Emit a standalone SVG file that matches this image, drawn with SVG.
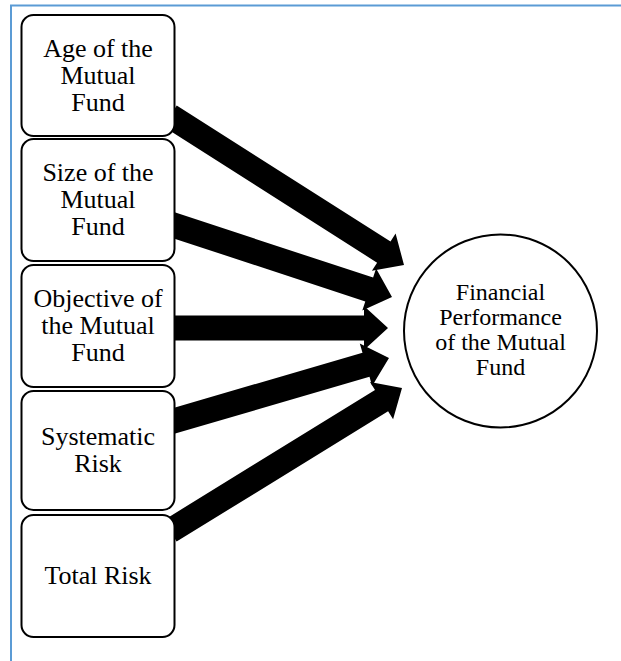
<svg xmlns="http://www.w3.org/2000/svg" width="621" height="661" viewBox="0 0 621 661">
<style>
.frame{stroke:#5b9bd5;stroke-width:2;fill:none}
.box{fill:#fff;stroke:#000;stroke-width:2}
.arrow{fill:#000;stroke:none}
.t{font-family:"Liberation Serif","Times New Roman",serif;font-size:26px;fill:#000;text-anchor:middle}
.tc{font-family:"Liberation Serif","Times New Roman",serif;font-size:24px;fill:#000;text-anchor:middle}
</style>
<rect width="621" height="661" fill="#fff"/>
<g id="frame">
<line class="frame" x1="10" y1="5.5" x2="621" y2="5.5"/>
<line class="frame" x1="11" y1="5" x2="11" y2="661"/>
</g>
<g id="connectors">
<polygon class="arrow" points="163.3,126.5 377.1,262.7 371.9,270.7 404,265 395.6,233.6 390.5,241.6 176.7,105.5"/>
<polygon class="arrow" points="166.1,235.9 365.3,301.4 362.3,310.4 392,297 376.1,268.6 373.1,277.6 173.9,212.1"/>
<polygon class="arrow" points="170,340.5 364,340.5 364,350 388,328 364,306 364,315.5 170,315.5"/>
<polygon class="arrow" points="173.5,434 369.5,376.7 372.1,385.9 389,358 359.8,343.6 362.5,352.7 166.5,410"/>
<polygon class="arrow" points="176.6,541.6 388.1,411.2 393.1,419.3 402,388 370,381.9 375,390 163.4,520.4"/>
</g>
<g id="age">
<rect class="box" x="21.5" y="15" width="153" height="121" rx="12"/>
<text class="t" x="98" y="56.5">Age of the</text>
<text class="t" x="98" y="83.5">Mutual</text>
<text class="t" x="98" y="110.5">Fund</text>
</g>
<g id="size">
<rect class="box" x="21.5" y="139" width="153" height="122" rx="12"/>
<text class="t" x="98" y="181">Size of the</text>
<text class="t" x="98" y="208">Mutual</text>
<text class="t" x="98" y="235">Fund</text>
</g>
<g id="objective">
<rect class="box" x="21.5" y="265" width="153" height="122" rx="12"/>
<text class="t" x="98" y="307">Objective of</text>
<text class="t" x="98" y="334">the Mutual</text>
<text class="t" x="98" y="361">Fund</text>
</g>
<g id="systematic">
<rect class="box" x="21.5" y="391" width="153" height="119" rx="12"/>
<text class="t" x="98" y="445">Systematic</text>
<text class="t" x="98" y="472">Risk</text>
</g>
<g id="total">
<rect class="box" x="21.5" y="515" width="153" height="122" rx="12"/>
<text class="t" x="98" y="584">Total Risk</text>
</g>
<g id="performance">
<circle class="box" cx="500.5" cy="331" r="96.5"/>
<text class="tc" x="500.5" y="300">Financial</text>
<text class="tc" x="500.5" y="325">Performance</text>
<text class="tc" x="500.5" y="350">of the Mutual</text>
<text class="tc" x="500.5" y="375">Fund</text>
</g>
</svg>
